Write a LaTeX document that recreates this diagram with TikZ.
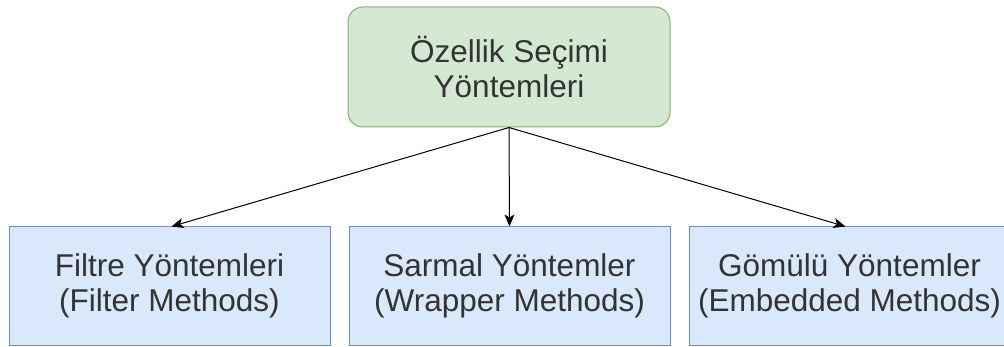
\documentclass[tikz,border=0pt]{standalone}
\usepackage{fontspec}
\setmainfont{Liberation Sans}
\usetikzlibrary{arrows.meta}
\definecolor{greenfill}{HTML}{D5E8D4}
\definecolor{greenline}{HTML}{82B366}
\definecolor{bluefill}{HTML}{DAE8FC}
\definecolor{blueline}{HTML}{6C8EBF}
\definecolor{textgray}{HTML}{333333}
\begin{document}
\begin{tikzpicture}[x=1pt,y=-1pt,
  boxtext/.style={align=center,text=textgray,font=\fontsize{31.5}{35}\selectfont,inner sep=0pt},
  rootbox/.style={boxtext,draw=greenline,fill=greenfill,line width=1pt,rounded corners=15pt,
    minimum width=322pt,minimum height=120pt},
  methodbox/.style={boxtext,draw=blueline,fill=bluefill,line width=1pt,
    minimum width=321pt,minimum height=118pt},
  link/.style={draw=black,line width=1pt,-{Stealth[length=12pt,width=10pt,inset=3pt]}}]
  \useasboundingbox (0,0) rectangle (1004,347);
  \clip (0,0) rectangle (1004,347);
  % root of the classification
  \node[rootbox] (root) at (509,67) {Özellik Seçimi\\Yöntemleri};
  % the three method families
  \node[methodbox] (filter)   at (169.5,286) {Filtre Yöntemleri\\(Filter Methods)};
  \node[methodbox] (wrapper)  at (509.5,286) {Sarmal Yöntemler\\(Wrapper Methods)};
  \node[methodbox] (embedded) at (849.5,286) {Gömülü Yöntemler\\(Embedded Methods)};
  % connectors
  \draw[link] (root.south) -- ([xshift=2pt]filter.north);
  \draw[link] (root.south) -- (wrapper.north);
  \draw[link] (root.south) -- ([xshift=-4pt]embedded.north);
\end{tikzpicture}
\end{document}
